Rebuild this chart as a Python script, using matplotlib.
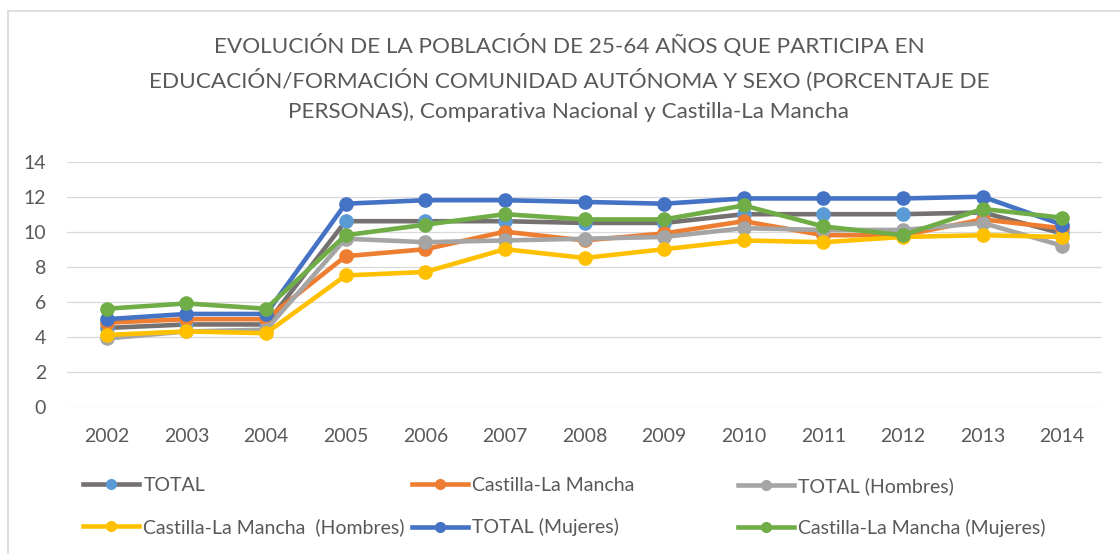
import matplotlib
matplotlib.use("Agg")
import matplotlib.pyplot as plt
from matplotlib.lines import Line2D

plt.rcParams["font.family"] = ["Lato", "DejaVu Sans"]

years = ["2002", "2003", "2004", "2005", "2006", "2007", "2008",
         "2009", "2010", "2011", "2012", "2013", "2014"]

total = [4.5, 4.7, 4.7, 10.6, 10.6, 10.6, 10.5, 10.5, 11.0, 11.0, 11.0, 11.1, 9.9]
clm = [4.8, 5.0, 5.0, 8.6, 9.0, 10.0, 9.5, 9.9, 10.6, 9.8, 9.8, 10.7, 10.2]
total_h = [3.9, 4.3, 4.4, 9.6, 9.4, 9.5, 9.6, 9.7, 10.2, 10.1, 10.1, 10.5, 9.2]
clm_h = [4.1, 4.3, 4.2, 7.5, 7.7, 9.0, 8.5, 9.0, 9.5, 9.4, 9.7, 9.8, 9.7]
total_m = [5.0, 5.3, 5.3, 11.6, 11.8, 11.8, 11.7, 11.6, 11.9, 11.9, 11.9, 12.0, 10.4]
clm_m = [5.6, 5.9, 5.6, 9.8, 10.4, 11.0, 10.7, 10.7, 11.5, 10.3, 9.8, 11.3, 10.8]

# (label, values, line colour, marker colour)
series = [
    ("TOTAL", total, "#767171", "#5B9BD5"),
    ("Castilla-La Mancha", clm, "#ED7D31", "#ED7D31"),
    ("TOTAL (Hombres)", total_h, "#A5A5A5", "#A5A5A5"),
    ("Castilla-La Mancha  (Hombres)", clm_h, "#FFC000", "#FFC000"),
    ("TOTAL (Mujeres)", total_m, "#4472C4", "#4472C4"),
    ("Castilla-La Mancha (Mujeres)", clm_m, "#70AD47", "#70AD47"),
]

title = ("EVOLUCIÓN DE LA POBLACIÓN DE 25-64 AÑOS QUE PARTICIPA EN\n"
         "EDUCACIÓN/FORMACIÓN COMUNIDAD AUTÓNOMA Y SEXO (PORCENTAJE DE\n"
         "PERSONAS), Comparativa Nacional y Castilla-La Mancha")

TXT = "#595959"
GRID = "#D9D9D9"
W, H = 1120, 554

fig = plt.figure(figsize=(W / 100, H / 100), dpi=100)
ax = fig.add_axes([67 / W, 1 - 406.7 / H, (1102 - 67) / W, (406.7 - 161.7) / H])

x = list(range(len(years)))
for label, vals, lc, mc in series:
    ax.plot(x, vals, "-o", color=lc, markerfacecolor=mc, markeredgecolor=mc,
            linewidth=3.3, markersize=9.5, label=label)

ax.set_xlim(-0.5, len(years) - 0.5)
ax.set_ylim(0, 14)
ax.set_yticks(range(0, 15, 2))
ax.set_xticks(x)
ax.set_xticklabels(years)
ax.grid(axis="y", color=GRID, linewidth=0.9)
ax.set_axisbelow(True)
for s in ax.spines.values():
    s.set_visible(False)
ax.tick_params(length=0, labelsize=14, labelcolor=TXT)
ax.tick_params(axis="y", pad=15)
ax.tick_params(axis="x", pad=15)

fig.text(569 / W, 1 - 34 / H, title, ha="center", va="top", fontsize=16.2,
         color=TXT, linespacing=1.6)

# chart-area border (cut at right and bottom like the source image)
fig.add_artist(Line2D([7.5 / W, 1], [1 - 11 / H, 1 - 11 / H], color=GRID, lw=1.2))
fig.add_artist(Line2D([7.5 / W, 7.5 / W], [0, 1 - 11 / H], color=GRID, lw=1.2))

# legend: 3 columns x 2 rows, filled row by row
col_x = [83, 412, 738]
for c in range(3):
    hs, ls = [], []
    for r in range(2):
        label, vals, lc, mc = series[r * 3 + c]
        hs.append(Line2D([], [], color=lc, marker="o", markerfacecolor=mc,
                         markeredgecolor=mc, linewidth=3.3, markersize=7))
        ls.append(label)
    fig.legend(hs, ls, loc="upper left", bbox_to_anchor=(col_x[c] / W, 1 - 477 / H),
               frameon=False, fontsize=14, labelcolor=TXT, borderpad=0,
               borderaxespad=0, handlelength=2.9, handletextpad=0.2,
               labelspacing=1.25)

fig.savefig("out.png", dpi=100)
